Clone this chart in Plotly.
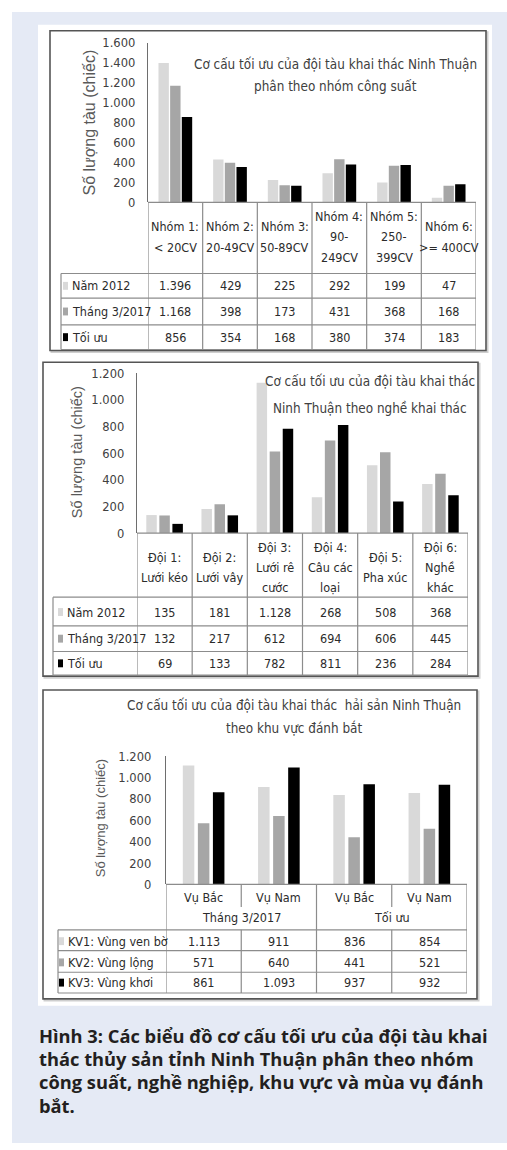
import plotly.graph_objects as go

W, H = 507, 1150

# ---------------------------------------------------------------- data
series_colors = ["#d9d9d9", "#a6a6a6", "#000000"]

# Chart 1: by engine power group
power_groups = ["Nhóm 1:\n< 20CV", "Nhóm 2:\n20-49CV", "Nhóm 3:\n50-89CV",
                "Nhóm 4:\n90-\n249CV", "Nhóm 5:\n250-\n399CV", "Nhóm 6:\n>= 400CV"]
power_series = ["Năm 2012", "Tháng 3/2017", "Tối ưu"]
power_2012 = [1396, 429, 225, 292, 199, 47]
power_2017 = [1168, 398, 173, 431, 368, 168]
power_opt = [856, 354, 168, 380, 374, 183]

# Chart 2: by fishing gear
gear_groups = ["Đội 1:\nLưới kéo", "Đội 2:\nLưới vây", "Đội 3:\nLưới rê\ncước",
               "Đội 4:\nCâu các\nloại", "Đội 5:\nPha xúc", "Đội 6:\nNghề\nkhác"]
gear_series = ["Năm 2012", "Tháng 3/2017", "Tối ưu"]
gear_2012 = [135, 181, 1128, 268, 508, 368]
gear_2017 = [132, 217, 612, 694, 606, 445]
gear_opt = [69, 133, 782, 811, 236, 284]

# Chart 3: by fishing zone and season
seasons = ["Vụ Bắc", "Vụ Nam", "Vụ Bắc", "Vụ Nam"]
periods = ["Tháng 3/2017", "Tối ưu"]
zone_series = ["KV1: Vùng ven bờ", "KV2: Vùng lộng", "KV3: Vùng khơi"]
zone_kv1 = [1113, 911, 836, 854]
zone_kv2 = [571, 640, 441, 521]
zone_kv3 = [861, 1093, 937, 932]

titles = [
    ["Cơ cấu tối ưu của đội tàu khai thác Ninh Thuận", "phân theo nhóm công suất"],
    ["Cơ cấu tối ưu của đội tàu khai thác", "Ninh Thuận theo nghề khai thác"],
    ["Cơ cấu tối ưu của đội tàu khai thác  hải sản Ninh Thuận", "theo khu vực đánh bắt"],
]
y_title = "Số lượng tàu (chiếc)"
caption_lines = [
    "Hình 3: Các biểu đồ cơ cấu tối ưu của đội tàu khai",
    "thác thủy sản tỉnh Ninh Thuận phân theo nhóm",
    "công suất, nghề nghiệp, khu vực và mùa vụ đánh",
    "bắt.",
]

# ---------------------------------------------------------------- helpers
CHART_FONT = "DejaVu Sans Condensed, Liberation Sans Narrow, Liberation Sans, sans-serif"
ROT_FONT = "Liberation Sans, Arial, sans-serif"
CAPTION_FONT = "Open Sans, Noto Sans, sans-serif"
TEXT = "#2b2b2b"
GRID = "#8c8c8c"
TS = 12.5   # table / tick text size


def fx(px):
    return px / W


def fy(py):
    return 1 - py / H


def fmt(v):
    return f"{v:,}".replace(",", ".")


def esc(s):
    return s.replace("<", "&lt;").replace(">", "&gt;")


fig = go.Figure()
shapes = []
annotations = []


def hline(y, x0, x1, color=GRID, width=1.2):
    shapes.append(dict(type="line", xref="paper", yref="paper",
                       x0=fx(x0), x1=fx(x1), y0=fy(y), y1=fy(y),
                       line=dict(color=color, width=width)))


def vline_paper(x, y0, y1, color=GRID, width=1.2):
    shapes.append(dict(type="line", xref="paper", yref="paper",
                       x0=fx(x), x1=fx(x), y0=fy(y0), y1=fy(y1),
                       line=dict(color=color, width=width)))


def vline_axis(xa, xv, y0, y1, color=GRID, width=1.2):
    shapes.append(dict(type="line", xref=xa, yref="paper",
                       x0=xv, x1=xv, y0=fy(y0), y1=fy(y1),
                       line=dict(color=color, width=width)))


def text_at(txt, x, y, xref="paper", size=TS, color=TEXT, family=CHART_FONT,
            xanchor="center", angle=0):
    annotations.append(dict(text=txt, x=x, y=y, xref=xref, yref="paper",
                            xanchor=xanchor, yanchor="middle", showarrow=False,
                            textangle=angle, font=dict(family=family, size=size, color=color)))


# background panel, picture area and chart frames
shapes.append(dict(type="rect", xref="paper", yref="paper", layer="below",
                   x0=fx(12), x1=fx(507), y0=fy(1150), y1=fy(4),
                   fillcolor="#e5eaf5", line=dict(width=0)))
shapes.append(dict(type="rect", xref="paper", yref="paper", layer="below",
                   x0=fx(38), x1=fx(492), y0=fy(1011), y1=fy(17),
                   fillcolor="#ffffff", line=dict(width=0)))
for (l, t, r, b) in [(50, 23, 486, 347), (43, 359, 478, 677), (43, 691, 477, 1004)]:
    shapes.append(dict(type="rect", xref="paper", yref="paper", layer="below",
                       x0=fx(l + 1.5), x1=fx(r + 1.5), y0=fy(b + 1.5), y1=fy(t + 1.5),
                       fillcolor="rgba(0,0,0,0)", line=dict(color="#cfcfcf", width=2)))
    shapes.append(dict(type="rect", xref="paper", yref="paper", layer="below",
                       x0=fx(l), x1=fx(r), y0=fy(b), y1=fy(t),
                       fillcolor="#ffffff", line=dict(color="#555555", width=1.6)))


def add_chart(k, names, values, g):
    xa = "x" if k == 1 else f"x{k}"
    ya = "y" if k == 1 else f"y{k}"
    n = len(values[0])
    slot = g["group"] / len(values)
    for j, (name, vals) in enumerate(zip(names, values)):
        fig.add_trace(go.Bar(
            x=list(range(n)), y=vals, name=name, xaxis=xa, yaxis=ya,
            width=g["bar"], offset=-g["group"] / 2 + j * slot + (slot - g["bar"]) / 2,
            marker=dict(color=series_colors[j], line=dict(width=0)),
            showlegend=False, hoverinfo="skip"))

    ticks = list(range(0, g["ymax"] + 1, g["dtick"]))
    sfx = "" if k == 1 else str(k)
    fig.layout["xaxis" + sfx] = dict(
        domain=[fx(g["ax_x"][0]), fx(g["ax_x"][1])], range=[-0.5, n - 0.5],
        anchor=ya, visible=False, fixedrange=True)
    fig.layout["yaxis" + sfx] = dict(
        domain=[fy(g["ax_y"][0]), fy(g["ax_y"][1])], range=[0, g["ymax"]],
        anchor=xa, showline=True, linecolor="#6e6e6e", linewidth=1.3,
        showgrid=False, zeroline=False, ticks="",
        tickmode="array", tickvals=ticks, ticktext=[fmt(v) for v in ticks],
        ticklabelstandoff=g["standoff"],
        tickfont=dict(family=CHART_FONT, size=TS + 0.3, color="#404040"), fixedrange=True)

    # chart title and rotated axis title
    for line, yy in zip(titles[k - 1], g["title_y"]):
        text_at(line, fx(g["title_x"]), fy(yy), size=13.4, color="#404040")
    rx, ry, rs = g["ytitle"]
    text_at(y_title, fx(rx), fy(ry), size=rs, color="#595959", family=ROT_FONT, angle=-90)

    # data table rows: legend key, series name, values
    x_left = g["table_left"]
    for j, (name, vals) in enumerate(zip(names, values)):
        cy = g["row_centers"][j]
        shapes.append(dict(type="rect", xref="paper", yref="paper",
                           x0=fx(g["key_x"]), x1=fx(g["key_x"] + 5),
                           y0=fy(cy + 4), y1=fy(cy - 4),
                           fillcolor=series_colors[j], line=dict(width=0)))
        text_at(name, fx(g["key_x"] + 7), fy(cy), xanchor="left")
        for i, v in enumerate(vals):
            text_at(fmt(v), i, fy(cy), xref=xa)
    for y in g["row_lines"]:
        hline(y, x_left, g["ax_x"][1])
    vline_paper(x_left, g["row_lines"][0], g["row_lines"][-1])
    hline(g["ax_y"][0], g["ax_x"][0], g["ax_x"][1])
    return xa


# ---------------------------------------------------------------- chart 1
g1 = dict(ax_x=(148, 476), ax_y=(197, 35), ymax=1600, dtick=200, standoff=9,
          group=0.64, bar=0.19, title_x=335, title_y=[57, 80], ytitle=(89, 116, 16),
          table_left=61, key_x=63, row_lines=[269, 294, 321, 346],
          row_centers=[281.5, 307.5, 333.5])
xa1 = add_chart(1, power_series, [power_2012, power_2017, power_opt], g1)
for i in range(len(power_groups) + 1):
    vline_axis(xa1, i - 0.5, 197, 346)
for i, lab in enumerate(power_groups):
    parts = lab.split("\n")
    for m, p in enumerate(parts):
        text_at(esc(p), i, fy(232 + (m - (len(parts) - 1) / 2) * 20.5), xref=xa1)

# ---------------------------------------------------------------- chart 2
g2 = dict(ax_x=(137, 468), ax_y=(532, 370), ymax=1200, dtick=200, standoff=9,
          group=0.71, bar=0.19, title_x=370, title_y=[378, 405], ytitle=(77, 450, 14.5),
          table_left=53, key_x=58, row_lines=[597, 626, 652, 676],
          row_centers=[612, 639, 664])
xa2 = add_chart(2, gear_series, [gear_2012, gear_2017, gear_opt], g2)
for i in range(len(gear_groups) + 1):
    vline_axis(xa2, i - 0.5, 532, 676)
for i, lab in enumerate(gear_groups):
    parts = lab.split("\n")
    for m, p in enumerate(parts):
        text_at(esc(p), i, fy(567 + (m - (len(parts) - 1) / 2) * 20.5), xref=xa2)

# ---------------------------------------------------------------- chart 3
g3 = dict(ax_x=(166, 467), ax_y=(888, 758), ymax=1200, dtick=200, standoff=11,
          group=0.6, bar=0.153, title_x=294, title_y=[706, 730], ytitle=(100, 821, 13),
          table_left=58, key_x=59, row_lines=[934, 955, 977, 998],
          row_centers=[945.5, 967, 987.5])
xa3 = add_chart(3, zone_series, [zone_kv1, zone_kv2, zone_kv3], g3)
for i in range(len(seasons) + 1):
    if i % 2 == 0:
        vline_axis(xa3, i - 0.5, 888, 998)
    else:
        vline_axis(xa3, i - 0.5, 888, 911)
        vline_axis(xa3, i - 0.5, 934, 998)
for i, s in enumerate(seasons):
    text_at(s, i, fy(901), xref=xa3)
for p, period in enumerate(periods):
    text_at(period, 2 * p + 0.5, fy(922), xref=xa3)

# ---------------------------------------------------------------- caption
for m, line in enumerate(caption_lines):
    annotations.append(dict(text="<b>" + line + "</b>", x=fx(37), y=fy(1041 + m * 23.5),
                            xref="paper", yref="paper", xanchor="left", yanchor="middle",
                            showarrow=False,
                            font=dict(family=CAPTION_FONT, size=18.3, color="#231f20")))

fig.update_layout(
    width=W, height=H, margin=dict(l=0, r=0, t=0, b=0),
    paper_bgcolor="#ffffff", plot_bgcolor="rgba(0,0,0,0)",
    barmode="overlay", shapes=shapes, annotations=annotations,
    showlegend=False,
)

fig.write_html("out.html", config={"displayModeBar": False})
